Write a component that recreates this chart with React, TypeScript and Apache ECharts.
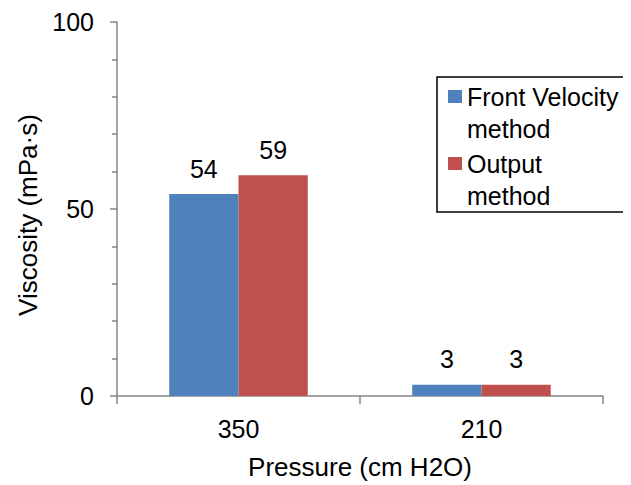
import React, { useEffect, useRef } from "react";
import * as echarts from "echarts";

const categories = ["350", "210"];
const frontVelocity = [54, 3];
const outputMethod = [59, 3];
const seriesNames = ["Front Velocity method", "Output method"];
const legendLabels: Record<string, string> = {
  "Front Velocity method": "Front Velocity\nmethod",
  "Output method": "Output\nmethod",
};
const xTitle = "Pressure (cm H2O)";
const yTitle = "Viscosity (mPa·s)";

const FONT = "'Liberation Sans', Arial, sans-serif";

export default function App() {
  const ref = useRef<HTMLDivElement>(null);
  useEffect(() => {
    if (!ref.current) return;
    const chart = echarts.init(ref.current, null, { renderer: "svg" });
    const labelStyle = {
      show: true,
      position: "top" as const,
      distance: 13,
      fontSize: 25,
      fontFamily: FONT,
      color: "#000",
    };
    chart.setOption({
      animation: false,
      backgroundColor: "#fff",
      textStyle: { fontFamily: FONT },
      grid: { left: 117, right: 28, top: 22, bottom: 87, containLabel: false },
      legend: {
        data: seriesNames.map((n) => ({ name: n, icon: "rect" })),
        orient: "vertical",
        left: 448,
        top: 48.5,
        padding: 0,
        itemWidth: 14,
        itemHeight: 13,
        itemGap: -29,
        formatter: (n: string) => "{e|}\n" + (legendLabels[n] ?? n),
        textStyle: {
          fontSize: 25,
          fontFamily: FONT,
          color: "#000",
          lineHeight: 32,
          rich: { e: { lineHeight: 32, fontSize: 25 } },
        },
        selectedMode: false,
      },
      xAxis: {
        type: "category",
        data: categories,
        name: xTitle,
        nameLocation: "middle",
        nameGap: 58,
        nameTextStyle: { fontSize: 26, fontFamily: FONT, color: "#000" },
        axisLine: { lineStyle: { color: "#868686", width: 1.5 } },
        axisTick: { show: true, length: 8, lineStyle: { color: "#868686", width: 1.5 } },
        axisLabel: { fontSize: 25, fontFamily: FONT, color: "#000", margin: 20 },
      },
      yAxis: {
        type: "value",
        min: 0,
        max: 100,
        interval: 50,
        axisLine: { show: true, lineStyle: { color: "#868686", width: 1.5 } },
        axisTick: { show: true, length: 7, lineStyle: { color: "#868686", width: 1.5 } },
        minorTick: { show: true, splitNumber: 5, length: 5, lineStyle: { color: "#868686", width: 1.5 } },
        splitLine: { show: false },
        axisLabel: { fontSize: 25, fontFamily: FONT, color: "#000", margin: 23 },
      },
      graphic: [
        {
          type: "text",
          x: 28,
          y: 215,
          rotation: Math.PI / 2,
          style: {
            text: yTitle,
            fontSize: 26,
            fontFamily: FONT,
            fill: "#000",
            textAlign: "center",
            textVerticalAlign: "middle",
          },
        },
        {
          type: "rect",
          shape: { x: 437, y: 77, width: 200, height: 135 },
          style: { fill: "none", stroke: "#000", lineWidth: 1.5 },
          z: 100,
        },
      ],
      series: [
        {
          name: seriesNames[0],
          type: "bar",
          data: frontVelocity,
          barGap: "0%",
          barCategoryGap: "43%",
          itemStyle: { color: "#4F81BD" },
          label: labelStyle,
        },
        {
          name: seriesNames[1],
          type: "bar",
          data: outputMethod,
          itemStyle: { color: "#C0504D" },
          label: labelStyle,
        },
      ],
    });
    return () => chart.dispose();
  }, []);
  return <div ref={ref} style={{ width: 631, height: 485, marginLeft: -8, marginTop: -8 }} />;
}
